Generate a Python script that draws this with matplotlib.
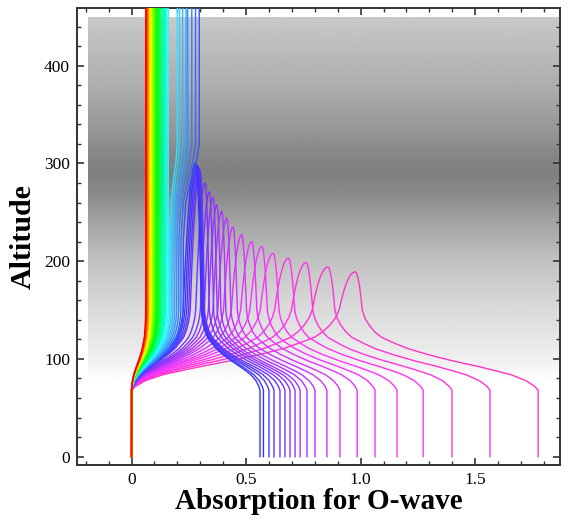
import numpy as np
import matplotlib
matplotlib.use("Agg")
from matplotlib import pyplot as plt
from matplotlib.colors import hsv_to_rgb

# background (electron density shading): altitude -> grey level
bg_alt  = [0, 75, 85, 95, 110, 130, 160, 200, 240, 270, 290, 310, 340, 380, 420, 450]
bg_grey = [1.0, 1.0, 0.985, 0.95, 0.92, 0.89, 0.84, 0.76, 0.64, 0.54, 0.50, 0.53, 0.60, 0.68, 0.74, 0.79]

# normalised D/E-region absorption build-up with altitude
d_alt  = [0, 68, 72, 78, 84, 89, 94, 99, 105, 111, 117, 122, 128, 135, 142, 150, 470]
d_frac = [0, 0, 0.02, 0.072, 0.16, 0.27, 0.39, 0.52, 0.65, 0.76, 0.84, 0.90, 0.94, 0.97, 0.99, 1.0, 1.0]

# F-layer extra absorption step for penetrating waves near critical frequency
f_alt  = [0, 220, 260, 285, 300, 320, 470]
f_frac = [0, 0, 0.15, 0.5, 0.8, 1.0, 1.0]

# penetrating waves (red -> blue): D-region absorption and F-layer extra
pen_s = [0.062, 0.0635, 0.0651, 0.0668, 0.0685, 0.0703, 0.0722, 0.0741, 0.0761, 0.0782,
         0.0804, 0.0827, 0.0851, 0.0876, 0.0902, 0.0929, 0.0957, 0.0987, 0.1018, 0.1051,
         0.1085, 0.1121, 0.1159, 0.1198, 0.1240, 0.1284, 0.1330, 0.1379, 0.1431, 0.1485,
         0.1543, 0.1604, 0.1669, 0.1738, 0.1811, 0.1889, 0.1972, 0.2061, 0.2156, 0.2257]
pen_f = [0] * 32 + [0.033, 0.036, 0.042, 0.049, 0.048, 0.057, 0.064, 0.070]

# reflected waves (blue -> pink): total at ground, value and height at reflection
ref_total = [0.561, 0.576, 0.600, 0.622, 0.648, 0.670, 0.692, 0.714, 0.736, 0.766,
             0.801, 0.853, 0.910, 0.985, 1.063, 1.159, 1.273, 1.399, 1.565, 1.775]
ref_peak  = [0.280, 0.285, 0.290, 0.295, 0.299, 0.321, 0.340, 0.356, 0.373, 0.394,
             0.416, 0.443, 0.481, 0.525, 0.569, 0.618, 0.685, 0.762, 0.857, 0.976]
ref_h     = [300, 298, 297, 295, 293, 280, 271, 265, 257.5, 251,
             244, 235, 227, 220, 215, 208, 203, 198.5, 194, 189]
ref_bump  = [0.020, 0.019, 0.018, 0.017, 0.016, 0.016, 0.016, 0.016, 0.016, 0.017,
             0.018, 0.020, 0.023, 0.026, 0.029, 0.033, 0.037, 0.041, 0.046, 0.050]


def Dprof(h):
    return np.interp(h, d_alt, d_frac)


fig = plt.figure(figsize=(5.69, 5.21), dpi=100)
ax = fig.add_axes([0.1353, 0.1075, 0.8487, 0.8765])

grey = np.interp(np.linspace(0, 450, 451), bg_alt, bg_grey)
ax.imshow(grey[::-1, None], cmap="gray", vmin=0, vmax=1, aspect="auto",
          extent=[-0.19, 1.865, 0, 450], interpolation="bilinear", zorder=0)

n_pen = len(pen_s)
n_ref = len(ref_total)
lw = 1.0

# reflected waves, pink first so blue lies on top of it
for j in range(n_ref - 1, -1, -1):
    hue = 0.665 + 0.215 * j / (n_ref - 1)
    col = hsv_to_rgb([hue, 0.8, 1.0])
    hr = ref_h[j]
    At = ref_total[j]
    Ap = ref_peak[j]
    cu = ref_bump[j] / np.sqrt(20.0)
    cd = 0.45 * cu
    su = Ap - cu * np.sqrt(hr - 100)
    sd = (At - Ap) - cd * np.sqrt(hr - 100)
    h = np.append(np.arange(0, hr, 0.25), hr)
    dev = np.where(h > 100, np.sqrt(hr - 100) - np.sqrt(np.clip(hr - h, 0, None)), 0)
    x_up = su * Dprof(h) + cu * dev
    x_dn = At - sd * Dprof(h) - cd * dev
    xs = np.concatenate([x_up, x_dn[::-1]])
    ys = np.concatenate([h, h[::-1]])
    ax.plot(xs, ys, color=col, lw=lw, zorder=2)

# penetrating waves, blue first, red last on top
hp = np.arange(0, 470, 0.25)
for i in range(n_pen - 1, -1, -1):
    hue = 0.64 * i / (n_pen - 1)
    col = hsv_to_rgb([hue, 1.0 if i < 30 else 0.8, 1.0])
    xs = pen_s[i] * Dprof(hp) + pen_f[i] * np.interp(hp, f_alt, f_frac)
    ax.plot(xs, hp, color=col, lw=lw, zorder=3)

ax.set_xlim(-0.238, 1.87)
ax.set_ylim(-8.5, 458.7)

ax.set_xticks([0, 0.5, 1.0, 1.5])
ax.set_xticklabels(["0", "0.5", "1.0", "1.5"])
ax.set_xticks(np.arange(-0.2, 1.85, 0.1), minor=True)
ax.set_yticks([0, 100, 200, 300, 400])
ax.set_yticks(np.arange(0, 460, 20), minor=True)

ax.tick_params(which="both", direction="in", top=True, right=True, color="#333333")
ax.tick_params(which="major", length=5, width=1.2, pad=5)
ax.tick_params(which="minor", length=3, width=1.0)
for lab in ax.get_xticklabels() + ax.get_yticklabels():
    lab.set_family("Liberation Serif")
    lab.set_fontsize(12.5)
for sp in ax.spines.values():
    sp.set_linewidth(1.4)
    sp.set_color("#333333")

ax.set_xlabel("Absorption for O-wave", family="Liberation Serif", fontsize=21,
              fontweight="bold", labelpad=0)
ax.set_ylabel("Altitude", family="Liberation Serif", fontsize=21.5,
              fontweight="bold", labelpad=5)

plt.savefig("out.png", dpi=100)
